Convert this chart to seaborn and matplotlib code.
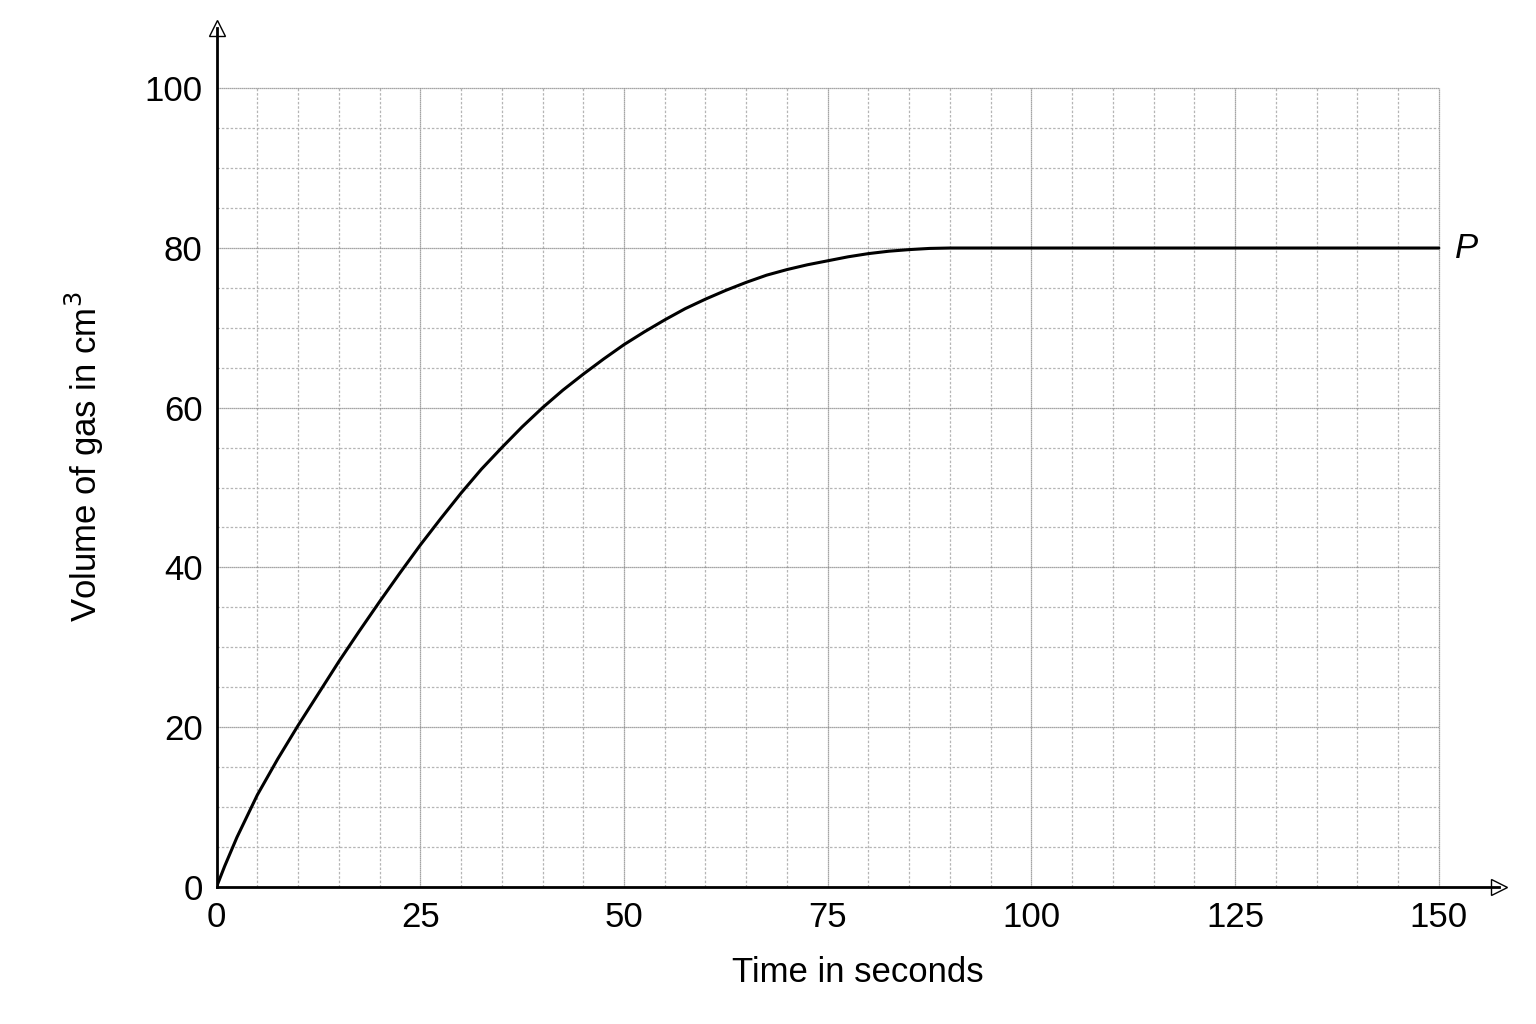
import matplotlib
matplotlib.use("Agg")
import matplotlib.pyplot as plt
import seaborn as sns
import numpy as np
import pandas as pd

time_s = [0, 1, 2.5, 5, 7.5, 10, 12.5, 15, 17.5, 20, 22.5, 25, 27.5, 30, 32.5, 35, 37.5, 40, 42.5, 45, 47.5, 50,
          52.5, 55, 57.5, 60, 62.5, 65, 67.5, 70, 72.5, 75, 77.5, 80, 82.5, 85, 87.5, 90, 100, 110, 120, 130, 140, 150]
volume = [0, 2.6, 6.2, 11.5, 16, 20.2, 24.2, 28.2, 32, 35.7, 39.3, 42.8, 46.1, 49.3, 52.3, 55, 57.6, 60, 62.2, 64.2, 66.1, 67.9,
          69.5, 71, 72.4, 73.6, 74.7, 75.7, 76.6, 77.3, 77.9, 78.4, 78.9, 79.3, 79.6, 79.8, 79.95, 80, 80, 80, 80, 80, 80, 80]
x_ticks = [0, 25, 50, 75, 100, 125, 150]
y_ticks = [0, 20, 40, 60, 80, 100]

sns.set_theme(style="white")
plt.rcParams['font.family'] = ['Liberation Sans', 'DejaVu Sans']

fig = plt.figure(figsize=(15.36, 10.24), dpi=100)
ax = fig.add_axes([0.141, 0.134, 0.835, 0.839])
ax.set_xlim(0, 157.4)
ax.set_ylim(0, 107.6)

for v in np.arange(5, 151, 5):
    major = v % 25 == 0
    ax.vlines(v, 0, 100, colors="#888888" if major else "#b5b5b5",
              linestyles=(0, (2, 1.5)) if not major else (0, (1, 0.6)), linewidth=0.9, zorder=0)
for v in np.arange(5, 101, 5):
    major = v % 20 == 0
    ax.hlines(v, 0, 150, colors="#888888" if major else "#b5b5b5",
              linestyles=(0, (2, 1.5)) if not major else (0, (1, 0.6)), linewidth=0.9, zorder=0)

df = pd.DataFrame({"t": time_s, "v": volume})
sns.lineplot(data=df, x="t", y="v", ax=ax, color="black", linewidth=2.2)

ax.text(152, 80, "P", fontsize=25, style="italic", va="center", ha="left", color="black")

for s in ["top", "right"]:
    ax.spines[s].set_visible(False)
for s in ["left", "bottom"]:
    ax.spines[s].set_color("black")
    ax.spines[s].set_linewidth(2)
ax.plot(1, 0, ">", transform=ax.transAxes, clip_on=False, markersize=12, markerfacecolor="white", markeredgecolor="black")
ax.plot(0, 1, "^", transform=ax.transAxes, clip_on=False, markersize=12, markerfacecolor="white", markeredgecolor="black")

ax.set_xticks(x_ticks)
ax.set_yticks(y_ticks)
ax.tick_params(labelsize=25, length=0, pad=10, colors="black")
ax.set_xlabel("Time in seconds", fontsize=25, labelpad=16, color="black")
ax.set_ylabel("Volume of gas in cm$^3$", fontsize=25, labelpad=28, color="black")

fig.savefig("out.png", dpi=100, facecolor="white")
